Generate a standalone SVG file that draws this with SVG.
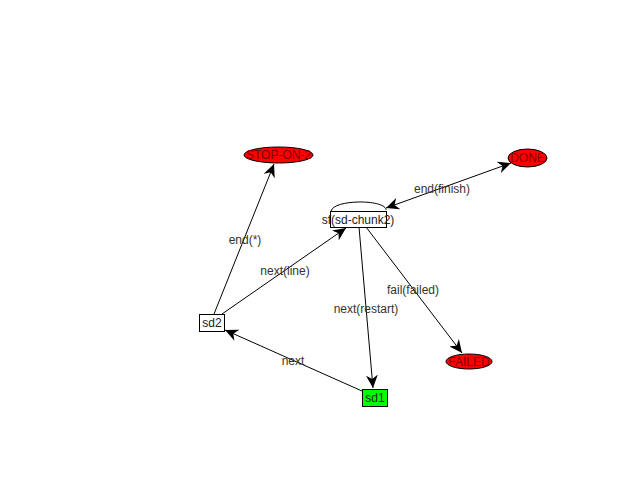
<svg xmlns="http://www.w3.org/2000/svg" width="640" height="480" viewBox="0 0 640 480">
<style>
text{font-family:"Liberation Sans",Arial,sans-serif;font-size:12px;text-anchor:middle}
.lbl{fill:#333}
.edge{stroke:#000;stroke-width:1;fill:none}
.end{fill:#f00;stroke:#000;stroke-width:1}
.endt{fill:#800000}
.box{fill:#fff;stroke:#000;stroke-width:1}
.start{fill:#0f0;stroke:#000;stroke-width:1}
</style>
<defs>
<marker id="arr" markerUnits="userSpaceOnUse" markerWidth="14" markerHeight="12" refX="13" refY="6" orient="auto-start-reverse" viewBox="0 0 14 12">
<path d="M0,0 L13,6 L0,12 L4,6 z" fill="#000"/>
</marker>
</defs>
<rect width="640" height="480" fill="#fff"/>
<g id="connectors">
<line class="edge" x1="214" y1="314" x2="274" y2="164" marker-end="url(#arr)"/>
<line class="edge" x1="222" y1="314" x2="346" y2="228" marker-end="url(#arr)"/>
<line class="edge" x1="359" y1="227" x2="373" y2="388" marker-end="url(#arr)"/>
<line class="edge" x1="366" y1="227" x2="462" y2="353" marker-end="url(#arr)"/>
<line class="edge" x1="362" y1="391" x2="225" y2="330" marker-end="url(#arr)"/>
<line class="edge" x1="386" y1="208" x2="511" y2="163" marker-start="url(#arr)" marker-end="url(#arr)"/>
<path class="edge" d="M331,212 C331,199 386,199 386,210"/>
<text class="lbl" x="245" y="244">end(*)</text>
<text class="lbl" x="285" y="275">next(line)</text>
<text class="lbl" x="442" y="193">end(finish)</text>
<text class="lbl" x="413" y="294">fail(failed)</text>
<text class="lbl" x="366" y="313">next(restart)</text>
<text class="lbl" x="293" y="365">next</text>
</g>
<g id="stop-on-2">
<ellipse class="end" cx="278.5" cy="155" rx="34.5" ry="8"/>
<text class="endt" x="278.5" y="159">STOP-ON-2</text>
</g>
<g id="done">
<ellipse class="end" cx="527.5" cy="158" rx="19.5" ry="9"/>
<text class="endt" x="527.5" y="162">DONE</text>
</g>
<g id="failed">
<ellipse class="end" cx="469" cy="361.5" rx="23" ry="7.5"/>
<text class="endt" x="469" y="366">FAILED</text>
</g>
<g id="sd-chunk2">
<rect class="box" x="330.5" y="211.5" width="56" height="16"/>
<text x="358" y="224" fill="#222">sf(sd-chunk2)</text>
</g>
<g id="sd2">
<rect class="box" x="199.5" y="314.5" width="25" height="17"/>
<text x="212" y="327" fill="#222">sd2</text>
</g>
<g id="sd1">
<rect class="start" x="362.5" y="389.5" width="25" height="17"/>
<text x="375" y="402" fill="#222">sd1</text>
</g>
</svg>
